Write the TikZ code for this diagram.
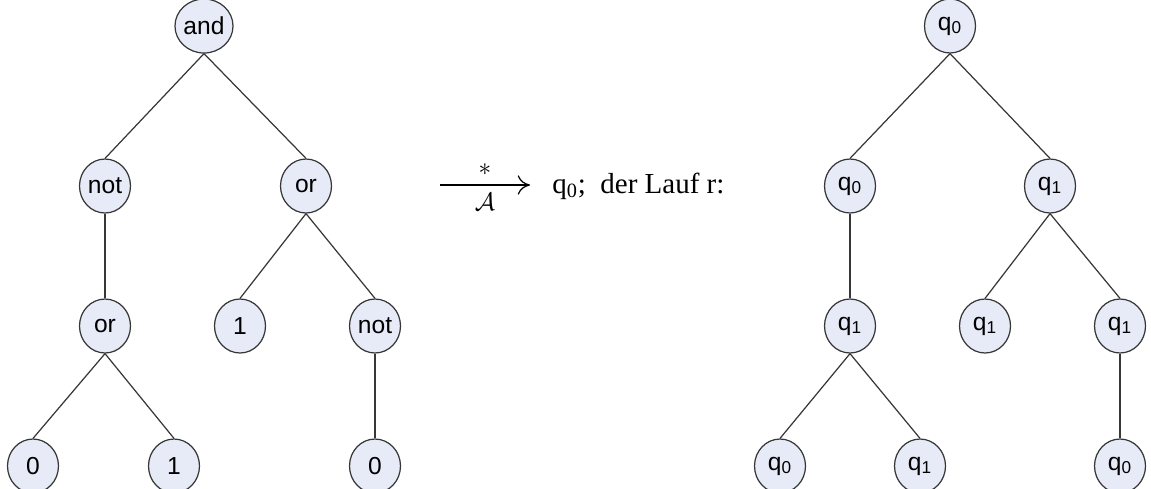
\documentclass[tikz,border=0pt]{standalone}
\usepackage{fontspec}
\usepackage{amssymb, amsmath}
\setmainfont{Liberation Serif}
\newfontfamily\nodefont{Liberation Sans}
\usetikzlibrary{arrows.meta, shapes.geometric}

\definecolor{nodefill}{RGB}{231,235,247}
\definecolor{linegray}{RGB}{55,55,55}
\tikzset{
  knot/.style={ellipse, draw=linegray, fill=nodefill, line width=0.7pt, minimum width=1.02cm, minimum height=1.08cm, inner sep=0pt, font=\nodefont\fontsize{14}{16}\selectfont},
  kante/.style={draw=linegray, line width=0.7pt}
}

\begin{document}
\begin{tikzpicture}[x=0.02cm, y=-0.02cm]
\useasboundingbox (0,0) rectangle (1151,488);

\node[knot] (and) at (204,26) {and};
\node[knot] (not1) at (105,186) {not};
\node[knot] (or1) at (306,186) {or};
\node[knot] (or2) at (105,326) {or};
\node[knot] (eins1) at (240,326) {1};
\node[knot] (not2) at (375,326) {not};
\node[knot] (null1) at (33,466) {0};
\node[knot] (eins2) at (174,466) {1};
\node[knot] (null2) at (375,466) {0};

\draw[kante] (and.south)--(not1.north);
\draw[kante] (and.south)--(or1.north);
\draw[kante] (not1.south)--(or2.north);
\draw[kante] (or1.south)--(eins1.north);
\draw[kante] (or1.south)--(not2.north);
\draw[kante] (or2.south)--(null1.north);
\draw[kante] (or2.south)--(eins2.north);
\draw[kante] (not2.south)--(null2.north);

\coordinate (pfeilA) at (440,185);
\coordinate (pfeilB) at (530,185);
\draw[-{To[length=7pt,width=11pt]}, line width=0.7pt] (pfeilA) -- (pfeilB)
  node[midway, above=2pt, font=\fontsize{14}{16}\selectfont] {$*$}
  node[midway, below=1pt, font=\fontsize{15}{17}\selectfont] {$\mathcal{A}$};
\node[anchor=west, inner sep=0pt, font=\fontsize{16.5}{19}\selectfont] (lauf) at (552,186) {q\textsubscript{0};\ \ der Lauf r:};

\node[knot] (r0) at (950,26) {q\textsubscript{0}};
\node[knot] (r1) at (850,186) {q\textsubscript{0}};
\node[knot] (r2) at (1050,186) {q\textsubscript{1}};
\node[knot] (r11) at (850,326) {q\textsubscript{1}};
\node[knot] (r21) at (985,326) {q\textsubscript{1}};
\node[knot] (r22) at (1120,326) {q\textsubscript{1}};
\node[knot] (r111) at (780,466) {q\textsubscript{0}};
\node[knot] (r112) at (920,466) {q\textsubscript{1}};
\node[knot] (r221) at (1120,466) {q\textsubscript{0}};

\draw[kante] (r0.south)--(r1.north);
\draw[kante] (r0.south)--(r2.north);
\draw[kante] (r1.south)--(r11.north);
\draw[kante] (r2.south)--(r21.north);
\draw[kante] (r2.south)--(r22.north);
\draw[kante] (r11.south)--(r111.north);
\draw[kante] (r11.south)--(r112.north);
\draw[kante] (r22.south)--(r221.north);
\end{tikzpicture}
\end{document}
